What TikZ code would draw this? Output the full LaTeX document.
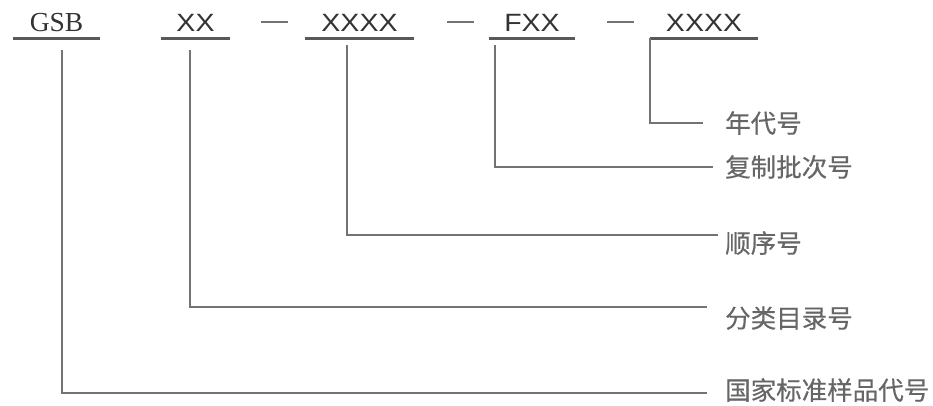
\documentclass[tikz,border=0pt]{standalone}
\usepackage{fontspec}
\newfontfamily\cjk[FakeBold=0.4]{Noto Sans CJK SC}
\newfontfamily\codefont[FakeStretch=1.14]{Liberation Sans}
\newfontfamily\gsbfont{Liberation Serif}

\begin{document}
\begin{tikzpicture}[x=1pt,y=-1pt,
  codebox/.style={anchor=south,inner xsep=0pt,inner ysep=6pt,text depth=0pt,text=black!80,
    font=\codefont\fontsize{25}{25}\selectfont},
  underline/.style={draw=black!65,line width=3pt},
  sepbar/.style={draw=black!55,line width=1.6pt},
  lead/.style={draw=black!55,line width=2.5pt},
  meaning/.style={anchor=west,inner sep=0pt,text=black!60,font=\cjk\fontsize{25.5}{25.5}\selectfont}]
  \useasboundingbox (0,0) rectangle (933,405);
  % code segments
  \node[codebox,minimum width=87pt,font=\gsbfont\fontsize{27.5}{27.5}\selectfont] (gsb) at (56.5,38) {GSB};
  \node[codebox,minimum width=69pt] (cls) at (195.5,38) {XX};
  \node[codebox,minimum width=109pt] (seq) at (359.5,38) {XXXX};
  \node[codebox,minimum width=86pt] (batch) at (532,38) {FXX};
  \node[codebox,minimum width=108pt] (year) at (704,38) {XXXX};
  \foreach \n in {gsb,cls,seq,batch,year}
    \draw[underline] (\n.south west) -- (\n.south east);
  % dashes between segments
  \foreach \x in {261,447,607}
    \draw[sepbar] (\x,22) -- ++(27,0);
  % meanings
  \node[meaning] (m-year) at (725,123) {年代号};
  \node[meaning] (m-batch) at (725,167) {复制批次号};
  \node[meaning] (m-seq) at (725,243) {顺序号};
  \node[meaning] (m-cls) at (725,318) {分类目录号};
  \node[meaning] (m-gsb) at (725,390) {国家标准样品代号};
  % leads
  \draw[lead] (year.south west) |- ([xshift=-22pt]m-year.west);
  \draw[lead] ([xshift=-37pt,yshift=-7pt]batch.south) |- ([xshift=-12pt]m-batch.west);
  \draw[lead] ([xshift=-12.5pt,yshift=-7pt]seq.south) |- ([xshift=-7pt,yshift=8pt]m-seq.west);
  \draw[lead] ([xshift=-5.5pt,yshift=-12pt]cls.south) |- ([xshift=-18pt,yshift=11pt]m-cls.west);
  \draw[lead] ([xshift=5.5pt,yshift=-12pt]gsb.south) |- ([xshift=-18pt,yshift=-3pt]m-gsb.west);
\end{tikzpicture}
\end{document}
